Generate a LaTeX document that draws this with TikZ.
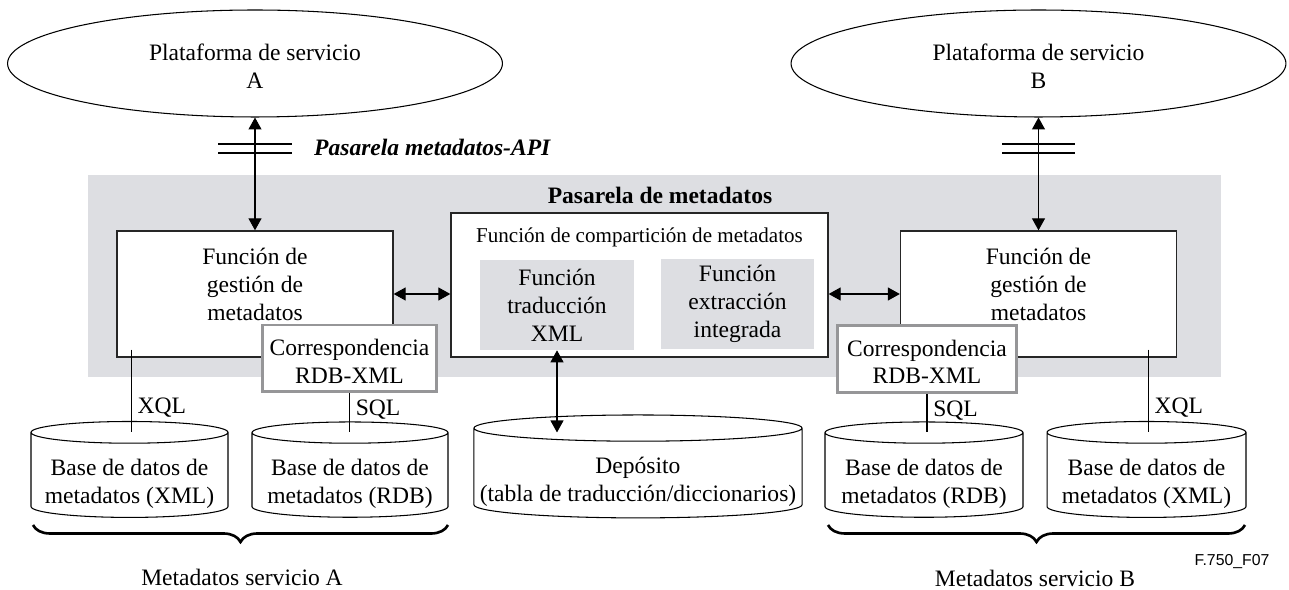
\documentclass[tikz,border=0pt]{standalone}
\usepackage{fontspec}
\setmainfont{Liberation Serif}
\newfontfamily\figsans{Liberation Sans}
\usetikzlibrary{shapes.geometric,arrows.meta,decorations.pathreplacing,calc}
\definecolor{gwgray}{RGB}{221,222,226}
\definecolor{mapgray}{RGB}{150,150,152}
\begin{document}
\begin{tikzpicture}[x=0.02cm,y=-0.02cm,
  every node/.style={font=\fontsize{13.4}{15.9}\selectfont},
  plat/.style={ellipse,draw,line width=0.6pt,minimum width=9.9cm,minimum height=2.14cm,align=center,text height=28.5pt},
  func/.style={draw=black!85,line width=0.8pt,fill=white,minimum width=5.52cm,minimum height=2.52cm,align=center,text depth=11pt},
  corr/.style={draw=mapgray,line width=1.7pt,fill=white,align=center,minimum height=1.34cm,text height=28.5pt},
  sub/.style={fill=gwgray,minimum height=1.8cm,align=center},
  db/.style={cylinder,shape border rotate=90,draw,line width=0.6pt,align=center,minimum height=1.84cm,inner ysep=1pt,text height=33pt},
  link/.style={line width=0.6pt,{Triangle[length=6.8pt,width=7.4pt]}-{Triangle[length=6.8pt,width=7.4pt]}},
  tick/.style={line width=1.1pt},
  brc/.style={decorate,decoration={brace,mirror,amplitude=0.34cm},line width=1.5pt}]
\useasboundingbox (0,0) rectangle (1289,590);

\fill[gwgray] (88,175) rectangle (1221,377);
\node[font=\fontsize{13.4}{15.9}\selectfont\bfseries] (gwtitle) at (660,195) {Pasarela de metadatos};

\node[plat] (platA) at (255,63.5) {Plataforma de servicio\\A};
\node[plat] (platB) at (1038.5,63.5) {Plataforma de servicio\\B};

\node[func] (gestA) at (255,294) {Funci\'on de\\gesti\'on de\\metadatos};
\node[func] (gestB) at (1038.5,294) {Funci\'on de\\gesti\'on de\\metadatos};

\node[draw=black!85,line width=0.8pt,fill=white,minimum width=7.54cm,minimum height=2.88cm] (share) at (639.5,285) {};
\node[font=\fontsize{12}{14}\selectfont] (sharetitle) at (639.5,237) {Funci\'on de compartici\'on de metadatos};
\node[sub,minimum width=3.08cm] (xmlf) at (557,305) {Funci\'on\\traducci\'on\\XML};
\node[sub,minimum width=3.06cm,yshift=-0.02cm] (extf) at (737.5,303) {Funci\'on\\extracci\'on\\integrada};

\node[corr,minimum width=3.5cm] (corrA) at (349.5,358.5) {Correspondencia\\RDB-XML};
\node[corr,minimum width=3.6cm] (corrB) at (927,359) {Correspondencia\\RDB-XML};

\node[db,shape aspect=0.12,minimum width=3.94cm] (dbxA) at (129.5,477) {Base de datos de\\metadatos (XML)};
\node[db,shape aspect=0.12,minimum width=3.92cm] (dbrA) at (350,477) {Base de datos de\\metadatos (RDB)};
\node[db,shape aspect=0.08,minimum width=6.44cm] (depo) at (638,475) {Dep\'osito\\(tabla de traducci\'on/diccionarios)};
\node[db,shape aspect=0.12,minimum width=3.96cm] (dbrB) at (924,477) {Base de datos de\\metadatos (RDB)};
\node[db,shape aspect=0.12,minimum width=3.98cm] (dbxB) at (1146.5,477) {Base de datos de\\metadatos (XML)};

\draw[link] (platA) -- (gestA);
\draw[link] (platB) -- (gestB);
\draw[tick] (218,144) -- (292,144) (218,153) -- (292,153);
\draw[tick] (1002,144) -- (1075,144) (1002,153) -- (1075,153);
\node[font=\fontsize{13.4}{15.9}\selectfont\bfseries\itshape,anchor=west] (apilbl) at (308,147) {Pasarela metadatos-API};

\draw[link] (gestA.east) -- (gestA.east -| share.west);
\draw[link] (gestB.west -| share.east) -- (gestB.west);
\coordinate (depoin) at ($(depo.north)+(0,18)$);
\draw[link] (xmlf.south) -- (xmlf.south |- depoin);

\coordinate (xqlA) at ($(gestA.south west)+(15,-8)$);
\coordinate (xqlB) at ($(gestB.south east)+(-29,-8)$);
\coordinate (dbxAin) at ($(dbxA.north)+(0,11)$);
\coordinate (dbrAin) at ($(dbrA.north)+(0,11)$);
\coordinate (dbrBin) at ($(dbrB.north)+(0,11)$);
\coordinate (dbxBin) at ($(dbxB.north)+(0,11)$);
\draw[line width=0.6pt] (xqlA) -- (xqlA |- dbxAin) node[pos=0.7,right] (xqlAlbl) {XQL};
\draw[line width=0.6pt] (corrA.south) -- (corrA.south |- dbrAin) node[pos=0.42,right] (sqlAlbl) {SQL};
\draw[line width=0.6pt] (corrB.south) -- (corrB.south |- dbrBin) node[pos=0.42,right] (sqlBlbl) {SQL};
\draw[line width=0.6pt] (xqlB) -- (xqlB |- dbxBin) node[pos=0.7,right] (xqlBlbl) {XQL};

\draw[brc] (33,525) -- (448,525);
\draw[brc] (828,525) -- (1245,525);
\node (metaA) at (242,577) {Metadatos servicio A};
\node (metaB) at (1035,578) {Metadatos servicio B};
\node[font=\figsans\fontsize{9}{11}\selectfont] (figid) at (1232,562) {F.750\_F07};
\end{tikzpicture}
\end{document}
